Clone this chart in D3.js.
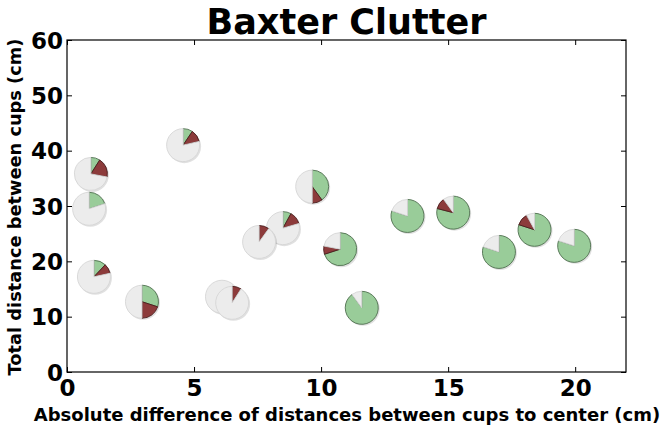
<!DOCTYPE html>
<html>
<head>
<meta charset="utf-8">
<script src="https://cdn.jsdelivr.net/npm/d3@7"></script>
<style>
  body { margin: 0; background: #fff; }
  text { font-family: "DejaVu Sans", sans-serif; font-weight: bold; }
</style>
</head>
<body>
<svg id="chart" width="666" height="432"></svg>
<script>
// one pie per trial, drawn in this order (later pies sit on top)
const xVals   = [0.94, 0.87, 4.57, 1.06, 2.95, 6.10, 6.50, 8.50, 7.56, 9.65, 10.75, 11.60, 13.40, 15.20, 17.00, 18.40, 19.96];
const yVals   = [35.8, 29.5, 41.0, 17.2, 12.7, 13.6, 12.5, 26.0, 23.5, 33.5, 22.2, 11.6, 28.2, 28.8, 21.7, 25.7, 22.8];
const greenFr = [0.09, 0.20, 0.094, 0.12, 0.30, 0.00, 0.00, 0.08, 0.00, 0.40, 0.70, 0.90, 0.80, 0.79, 0.80, 0.80, 0.80];
const redFr   = [0.19, 0.00, 0.12, 0.095, 0.20, 0.00, 0.09, 0.125, 0.10, 0.10, 0.08, 0.00, 0.00, 0.11, 0.00, 0.12, 0.00];
const greyFr  = [0.72, 0.80, 0.786, 0.785, 0.50, 1.00, 0.91, 0.795, 0.90, 0.50, 0.22, 0.10, 0.20, 0.10, 0.20, 0.08, 0.20];

const sliceNames = ["green", "red", "grey"];
const xTicks = [0, 5, 10, 15, 20];
const yTicks = [0, 10, 20, 30, 40, 50, 60];

const W = 666, H = 432;
const margin = { top: 40, right: 40, bottom: 60, left: 67 };
const pw = W - margin.left - margin.right;
const ph = H - margin.top - margin.bottom;

const fills = { green: "#99cc99", red: "#8c3b3b", grey: "#ececec" };
const edges = { green: "#4f6f4f", red: "#4a1c1c", grey: "#d6d6d6" };

const svg = d3.select("#chart");
const g = svg.append("g").attr("transform", `translate(${margin.left},${margin.top})`);

const x = d3.scaleLinear().domain([0, 22]).range([0, pw]);
const y = d3.scaleLinear().domain([0, 60]).range([ph, 0]);

const pie = d3.pie().sort(null).value(d => d.v);
const arc = d3.arc().innerRadius(0).outerRadius(16.5);

const pts = xVals.map((xv, i) => ({
  x: xv, y: yVals[i],
  slices: [greenFr[i], redFr[i], greyFr[i]].map((v, k) => ({ v: v, name: sliceNames[k] }))
}));

const pies = g.selectAll(".pie").data(pts).enter().append("g")
  .attr("class", "pie")
  .attr("transform", d => `translate(${x(d.x)},${y(d.y)})`);

// soft shadow under each pie
pies.append("circle")
  .attr("cx", 1.2).attr("cy", 1.2).attr("r", 16.8)
  .attr("fill", "#000").attr("opacity", 0.12);

pies.selectAll("path")
  .data(d => pie(d.slices).filter(s => s.data.v > 0))
  .enter().append("path")
  .attr("d", arc)
  .attr("fill", s => fills[s.data.name])
  .attr("stroke", s => edges[s.data.name])
  .attr("stroke-width", 0.9)
  .attr("stroke-linejoin", "round");

// frame
g.append("rect").attr("width", pw).attr("height", ph)
  .attr("fill", "none").attr("stroke", "#000").attr("stroke-width", 1.2);

// inward ticks on all four sides
const tk = 5;
const axB = g.append("g").attr("transform", `translate(0,${ph})`)
  .call(d3.axisBottom(x).tickValues(xTicks).tickSizeInner(-tk).tickSizeOuter(0).tickPadding(7));
const axT = g.append("g")
  .call(d3.axisTop(x).tickValues(xTicks).tickSizeInner(-tk).tickSizeOuter(0).tickFormat(""));
const axL = g.append("g")
  .call(d3.axisLeft(y).tickValues(yTicks).tickSizeInner(-tk).tickSizeOuter(0).tickPadding(4));
const axR = g.append("g").attr("transform", `translate(${pw},0)`)
  .call(d3.axisRight(y).tickValues(yTicks).tickSizeInner(-tk).tickSizeOuter(0).tickFormat(""));

[axB, axT, axL, axR].forEach(a => {
  a.select(".domain").remove();
  a.selectAll(".tick line").attr("stroke", "#000").attr("stroke-width", 1);
});
[axB, axL].forEach(a => a.selectAll(".tick text")
  .attr("fill", "#000")
  .style("font-size", "23px")
  .style("font-family", "'DejaVu Sans', sans-serif")
  .style("font-weight", "bold"));
axL.selectAll(".tick text").attr("dy", "0.36em");
axB.selectAll(".tick text").attr("dy", "0.72em");

svg.append("text")
  .attr("x", margin.left + pw / 2).attr("y", 34)
  .attr("text-anchor", "middle")
  .style("font-size", "35px")
  .text("Baxter Clutter");

svg.append("text")
  .attr("x", 347).attr("y", 421)
  .attr("text-anchor", "middle")
  .style("font-size", "18px")
  .text("Absolute difference of distances between cups to center (cm)");

svg.append("text")
  .attr("transform", `translate(21,${margin.top + ph / 2 + 1}) rotate(-90)`)
  .attr("text-anchor", "middle")
  .style("font-size", "17.8px")
  .text("Total distance between cups (cm)");
</script>
</body>
</html>
